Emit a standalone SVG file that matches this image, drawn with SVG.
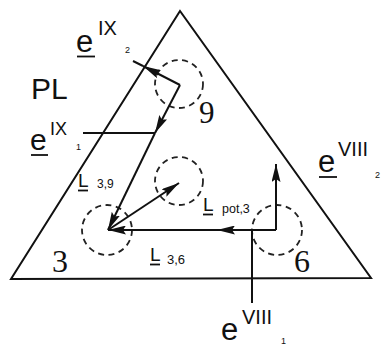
<svg xmlns="http://www.w3.org/2000/svg" width="382" height="346" viewBox="0 0 382 346">
<style>
.edge{fill:none;stroke:#111;stroke-width:2}
.tri{fill:none;stroke:#111;stroke-width:2;stroke-linejoin:miter}
.node{fill:none;stroke:#222;stroke-width:1.8;stroke-dasharray:6 4.5}
.sans{font-family:"Liberation Sans",Arial,sans-serif;fill:#111}
.serif{font-family:"Liberation Serif","Times New Roman",serif;fill:#111}
.ul{stroke:#111;stroke-width:1.8}
</style>
<defs>
<marker id="ah" viewBox="0 0 18 9" refX="18" refY="4.5" markerWidth="18" markerHeight="9" orient="auto" markerUnits="userSpaceOnUse">
<path d="M0,0 L18,4.5 L0,9 L3,4.5 z" fill="#111"/>
</marker>
</defs>
<rect width="382" height="346" fill="#fff"/>
<g id="plane">
<polygon class="tri" points="180,11 11,279 371,278"/>
<text class="sans" x="31" y="99" font-size="30">PL</text>
</g>
<g id="node9">
<circle class="node" cx="179" cy="84" r="24"/>
<text class="serif" x="199" y="123" font-size="31">9</text>
</g>
<g id="nodepot">
<circle class="node" cx="179" cy="181" r="24"/>
</g>
<g id="node3">
<circle class="node" cx="107" cy="230" r="25"/>
<text class="serif" x="52" y="272" font-size="32">3</text>
</g>
<g id="node6">
<circle class="node" cx="277" cy="230" r="25"/>
<text class="serif" x="294" y="272" font-size="32">6</text>
</g>
<g id="connectors">
<path class="edge" d="M180,85 L143,66" marker-end="url(#ah)"/>
<path class="edge" d="M143,66 L133,61"/>
<path class="edge" d="M180,85 L155,133" marker-end="url(#ah)"/>
<path class="edge" d="M83,133 L155,133"/>
<path class="edge" d="M155,133 L108,230" marker-end="url(#ah)"/>
<path class="edge" d="M276,230 L217,230" marker-end="url(#ah)"/>
<path class="edge" d="M217,230 L108,230" marker-end="url(#ah)"/>
<path class="edge" d="M276,230 L276,164" marker-end="url(#ah)"/>
<path class="edge" d="M252,230 L252,303"/>
<path class="edge" d="M108,230 L179,183" marker-end="url(#ah)"/>
</g>
<g id="labels">
<g id="eIX2">
<text class="sans" x="76" y="52" font-size="31">e</text>
<line class="ul" x1="77" y1="56.5" x2="95" y2="56.5"/>
<text class="sans" x="98" y="35" font-size="20">IX</text>
<text class="sans" x="125" y="53" font-size="9">2</text>
</g>
<g id="eIX1">
<text class="sans" x="30" y="150" font-size="30">e</text>
<line class="ul" x1="31" y1="155" x2="48" y2="155"/>
<text class="sans" x="50" y="135" font-size="18">IX</text>
<text class="sans" x="76" y="150" font-size="9">1</text>
</g>
<g id="eVIII2">
<text class="sans" x="318" y="172" font-size="31">e</text>
<line class="ul" x1="319" y1="177" x2="337" y2="177"/>
<text class="sans" x="338" y="156" font-size="20">VIII</text>
<text class="sans" x="375" y="178" font-size="9">2</text>
</g>
<g id="eVIII1">
<text class="sans" x="221" y="340" font-size="31">e</text>
<text class="sans" x="242" y="324" font-size="20">VIII</text>
<text class="sans" x="281" y="344" font-size="9">1</text>
</g>
<g id="L39">
<text class="sans" x="78" y="187" font-size="19">L</text>
<line class="ul" x1="78" y1="190.5" x2="88" y2="190.5"/>
<text class="sans" x="97" y="188" font-size="12">3,9</text>
</g>
<g id="L36">
<text class="sans" x="150" y="261" font-size="19">L</text>
<line class="ul" x1="150" y1="264.5" x2="160" y2="264.5"/>
<text class="sans" x="167" y="264" font-size="13">3,6</text>
</g>
<g id="Lpot3">
<text class="sans" x="203" y="211" font-size="19">L</text>
<line class="ul" x1="203" y1="214.5" x2="213" y2="214.5"/>
<text class="sans" x="222" y="213" font-size="12.5">pot,3</text>
</g>
</g>
</svg>
